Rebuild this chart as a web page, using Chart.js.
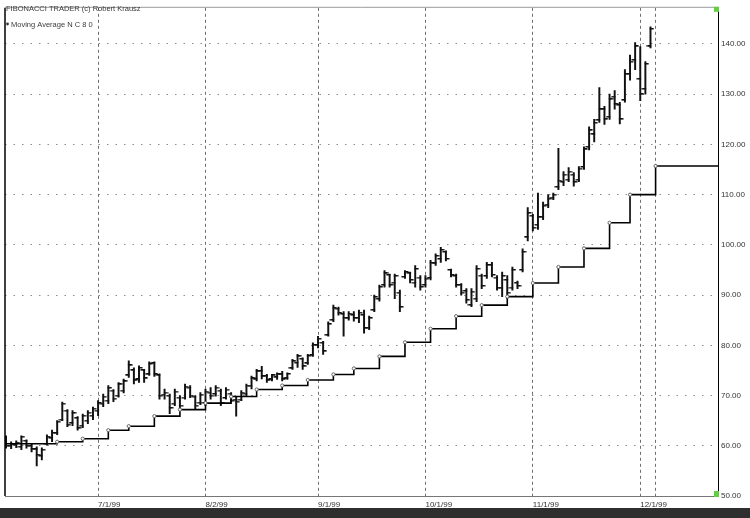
<!DOCTYPE html>
<html>
<head>
<meta charset="utf-8">
<script src="https://cdn.jsdelivr.net/npm/chart.js@4.4.1/dist/chart.umd.min.js"></script>
<style>
  html, body { margin: 0; padding: 0; background: #fff; }
  canvas { display: block; }
</style>
</head>
<body>
<canvas id="chart" width="750" height="518"></canvas>
<script>
// daily bars, one per trading day starting 6/7/99
const highs = [
  62.0, 60.8, 61.0, 62.0, 61.2, 60.5, 59.8, 59.6, 62.2, 63.1,
  65.0, 68.7, 67.2, 67.0, 65.8, 66.3, 67.0, 67.7, 69.0, 70.3,
  72.0, 71.2, 72.6, 73.3, 76.9, 75.5, 75.9, 75.2, 76.7, 76.7,
  74.3, 71.3, 70.3, 71.3, 70.0, 72.3, 72.0, 70.0, 70.6, 71.3,
  71.6, 72.0, 71.3, 71.6, 70.6, 69.7, 71.0, 72.3, 73.9, 75.2,
  75.8, 74.2, 74.2, 74.5, 74.8, 74.5, 77.2, 78.2, 77.5, 78.2,
  80.5, 81.8, 80.8, 84.7, 88.0, 87.6, 86.7, 86.7, 86.7, 87.0,
  87.0, 85.8, 90.0, 92.0, 94.9, 94.2, 94.2, 91.0, 94.9, 94.6,
  95.9, 93.9, 93.9, 96.9, 98.2, 99.5, 98.8, 95.2, 94.2, 92.3,
  91.3, 91.3, 95.9, 94.2, 96.5, 96.5, 93.9, 94.6, 93.9, 95.6,
  92.8, 99.2, 107.4, 106.1, 110.3, 108.5, 110.0, 110.3, 119.2, 114.6,
  115.4, 114.4, 115.6, 119.5, 123.5, 125.0, 131.3, 127.6, 130.0, 130.7,
  128.4, 134.9, 137.8, 140.3, 139.5, 136.5, 143.4
];
const lows = [
  59.5, 59.4, 59.6, 59.2, 59.5, 58.8, 56.0, 57.2, 60.1, 60.8,
  62.2, 65.0, 63.8, 64.0, 63.1, 63.6, 64.4, 65.2, 66.0, 67.8,
  68.4, 68.8, 69.7, 70.5, 73.6, 72.3, 72.6, 72.6, 74.0, 73.8,
  69.3, 69.3, 66.4, 68.0, 67.4, 69.3, 69.6, 67.4, 68.2, 68.0,
  69.3, 69.9, 68.0, 69.3, 68.7, 65.9, 69.0, 70.0, 71.3, 72.9,
  73.3, 72.6, 72.9, 73.2, 72.9, 73.2, 75.2, 75.6, 75.2, 76.2,
  77.8, 79.5, 78.2, 81.8, 84.7, 86.0, 81.8, 85.0, 84.8, 84.5,
  82.4, 83.1, 86.7, 88.8, 91.6, 91.6, 89.3, 86.7, 93.3, 92.4,
  91.6, 91.0, 91.6, 93.0, 95.9, 96.5, 96.8, 93.6, 91.6, 90.0,
  88.4, 87.7, 88.7, 91.3, 93.3, 93.6, 91.0, 89.7, 89.3, 91.0,
  91.3, 94.6, 100.8, 102.8, 103.1, 105.0, 107.4, 109.0, 111.0, 111.8,
  112.6, 111.7, 112.6, 115.0, 118.9, 120.5, 124.4, 124.0, 125.0, 127.0,
  124.1, 128.4, 132.8, 134.9, 128.7, 130.0, 139.2
];
const opens = [
  61.0, 60.0, 60.2, 59.8, 61.0, 60.0, 59.3, 58.0, 60.4, 61.5,
  62.5, 65.2, 67.0, 64.5, 65.5, 64.0, 65.0, 66.0, 67.0, 68.4,
  69.0, 71.0, 70.0, 71.0, 74.0, 75.0, 73.2, 75.0, 74.2, 76.4,
  74.0, 70.2, 70.0, 68.4, 69.6, 69.6, 71.6, 69.8, 68.6, 68.5,
  70.6, 70.3, 71.0, 69.5, 70.4, 69.2, 69.2, 70.4, 72.0, 73.2,
  74.9, 73.9, 73.2, 73.6, 74.2, 73.4, 75.4, 76.5, 77.3, 76.4,
  78.0, 80.0, 80.5, 82.0, 85.0, 87.3, 86.2, 85.4, 86.0, 85.5,
  86.0, 83.5, 87.0, 89.2, 92.0, 94.0, 92.5, 90.5, 93.6, 94.3,
  92.5, 93.5, 92.0, 93.4, 96.3, 97.2, 98.6, 95.0, 93.8, 92.0,
  90.8, 88.0, 89.3, 93.9, 93.8, 96.0, 93.5, 91.5, 93.0, 91.5,
  92.4, 95.0, 101.5, 105.8, 104.0, 105.6, 108.0, 109.4, 111.5, 112.5,
  113.0, 114.0, 113.0, 115.5, 119.5, 122.0, 124.8, 127.0, 125.5, 129.5,
  127.8, 128.8, 134.0, 136.8, 133.0, 131.0, 139.5
];
const closes = [
  60.0, 60.3, 60.6, 61.8, 60.0, 59.3, 58.2, 59.2, 61.8, 62.6,
  64.8, 68.4, 64.2, 66.5, 63.5, 66.0, 66.6, 67.4, 68.5, 69.8,
  71.5, 69.4, 72.2, 72.8, 76.0, 73.0, 75.5, 73.4, 76.3, 74.3,
  70.0, 70.6, 67.5, 70.8, 68.0, 71.8, 70.0, 68.0, 70.2, 70.8,
  70.0, 71.6, 68.6, 71.2, 69.0, 68.8, 70.6, 72.0, 73.4, 74.8,
  73.8, 73.0, 74.0, 74.2, 73.2, 74.3, 76.8, 77.8, 75.8, 77.9,
  80.1, 81.3, 78.8, 84.2, 87.4, 86.4, 85.5, 86.3, 85.4, 86.5,
  83.4, 85.4, 89.6, 91.6, 94.3, 92.0, 93.8, 87.6, 94.6, 93.0,
  95.2, 91.6, 93.3, 96.4, 97.8, 99.0, 97.2, 94.0, 92.0, 90.5,
  89.0, 90.7, 95.2, 91.8, 96.0, 94.0, 91.5, 93.8, 90.5, 95.0,
  91.8, 98.6, 106.3, 103.4, 105.5, 107.8, 109.2, 110.0, 112.8, 114.0,
  114.6, 112.5, 115.2, 119.0, 122.8, 124.3, 127.0, 125.0, 129.0, 128.0,
  125.0, 134.0, 136.5, 139.5, 130.0, 136.0, 143.0
];

// weekly moving average: day index where each level starts, and its value
const maX = [0, 10, 15, 20, 24, 29, 34, 39, 44, 49, 54, 59, 64, 68, 73, 78, 83, 88, 93, 98, 103, 108, 113, 118, 122, 127, 139.2];
const maY = [60.4, 60.8, 61.4, 63.1, 63.9, 65.9, 67.2, 68.5, 69.8, 71.2, 72.0, 73.1, 74.2, 75.4, 77.8, 80.6, 83.3, 85.8, 88.0, 89.7, 92.4, 95.6, 99.3, 104.4, 110.0, 115.7, 115.7];

const tickIndex = [18, 39, 61, 82, 103, 124, 127];
const tickLabels = ['7/1/99', '8/2/99', '9/1/99', '10/1/99', '11/1/99', '12/1/99', ''];
const yTicks = [50, 60, 70, 80, 90, 100, 110, 120, 130, 140];

const headerTitle = 'FIBONACCI TRADER (c) Robert Krausz';
const headerSeries = 'Moving Average N C 8 0';

const FONT = '"Liberation Sans", Arial, sans-serif';

// small canvases used as open (left) and close (right) ticks
function tickImage(side) {
  const c = document.createElement('canvas');
  c.width = 8; c.height = 2;
  const g = c.getContext('2d');
  g.fillStyle = '#111';
  if (side === 'left') g.fillRect(0.5, 0, 4, 1.5);
  else g.fillRect(3.5, 0, 4, 1.5);
  return c;
}

const barData = highs.map((h, i) => ({ x: i, y: [lows[i], h] }));
const openData = opens.map((v, i) => ({ x: i, y: v }));
const closeData = closes.map((v, i) => ({ x: i, y: v }));
const maData = maX.map((x, i) => ({ x: x, y: maY[i] }));

const frame = {
  id: 'frame',
  afterDraw(chart) {
    const { ctx, chartArea: a } = chart;
    ctx.save();
    // left axis and top edge
    ctx.strokeStyle = '#000';
    ctx.lineWidth = 1.5;
    ctx.beginPath(); ctx.moveTo(a.left, a.top); ctx.lineTo(a.left, a.bottom); ctx.stroke();
    ctx.strokeStyle = '#9a9a9a';
    ctx.lineWidth = 1;
    ctx.beginPath(); ctx.moveTo(a.left, a.top - 0.5); ctx.lineTo(a.right, a.top - 0.5); ctx.stroke();
    // green corner markers
    ctx.fillStyle = '#5fd13c';
    ctx.fillRect(a.right - 4, a.top - 1, 5, 5);
    ctx.fillRect(a.right - 4, a.bottom - 5, 5, 6);
    // header text
    ctx.fillStyle = '#3a3a3a';
    ctx.font = '7.5px ' + FONT;
    ctx.textBaseline = 'alphabetic';
    ctx.textAlign = 'left';
    ctx.fillText(headerTitle, 6, 11);
    ctx.beginPath(); ctx.arc(7.5, 24, 1.4, 0, Math.PI * 2); ctx.fill();
    ctx.fillText(headerSeries, 11, 27);
    // window edge under the axis labels
    ctx.fillStyle = '#2e2e2e';
    ctx.fillRect(0, 508, chart.width, chart.height - 508);
    ctx.restore();
  }
};

new Chart(document.getElementById('chart'), {
  type: 'scatter',
  data: {
    datasets: [
      {
        type: 'bar',
        data: barData,
        backgroundColor: '#111',
        barThickness: 1.3,
        order: 3
      },
      {
        type: 'scatter',
        data: openData,
        pointStyle: tickImage('left'),
        pointRadius: 3,
        order: 2
      },
      {
        type: 'scatter',
        data: closeData,
        pointStyle: tickImage('right'),
        pointRadius: 3,
        order: 2
      },
      {
        type: 'line',
        data: maData,
        stepped: true,
        borderColor: '#000',
        borderWidth: 1.6,
        pointRadius: c => (c.dataIndex === 0 || c.dataIndex === maX.length - 1) ? 0 : 1.6,
        pointBackgroundColor: '#fff',
        pointBorderColor: '#666',
        pointBorderWidth: 1,
        order: 1
      }
    ]
  },
  options: {
    responsive: false,
    animation: false,
    layout: { padding: { left: 4, top: 4, right: 0, bottom: 0 } },
    plugins: {
      legend: { display: false },
      tooltip: { enabled: false }
    },
    scales: {
      x: {
        type: 'linear',
        position: 'bottom',
        min: -0.2,
        max: 139.2,
        offset: false,
        afterBuildTicks: s => { s.ticks = tickIndex.map(v => ({ value: v })); },
        afterFit: s => { s.height = 22; },
        grid: { color: '#6e6e6e', lineWidth: 1, drawTicks: false, offset: false },
        border: { display: true, color: '#777', width: 1, dash: [3, 3] },
        ticks: {
          autoSkip: false,
          maxRotation: 0,
          align: 'start',
          padding: 4,
          color: '#333',
          font: { family: FONT, size: 8 },
          callback: (v, i) => tickLabels[i]
        }
      },
      y: {
        type: 'linear',
        position: 'right',
        min: 50,
        max: 147.2,
        afterBuildTicks: s => { s.ticks = yTicks.map(v => ({ value: v })); },
        afterFit: s => { s.width = 32; },
        grid: { color: '#8c8c8c', lineWidth: 1, drawTicks: false },
        border: { display: true, color: '#000', width: 1, dash: [1.5, 7] },
        ticks: {
          padding: 3,
          color: '#333',
          font: { family: FONT, size: 8 },
          callback: v => Number(v).toFixed(2)
        }
      }
    }
  },
  plugins: [frame]
});
</script>
</body>
</html>
